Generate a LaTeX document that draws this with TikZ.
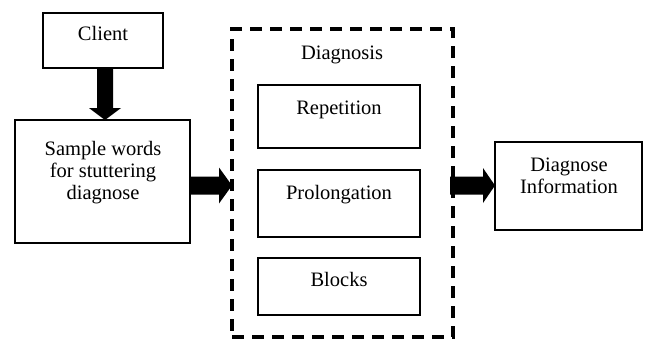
\documentclass[tikz,border=0pt]{standalone}
\usepackage{fontspec}
\setmainfont{Liberation Serif}
\usetikzlibrary{calc}
\begin{document}
\begin{tikzpicture}[x=1pt,y=-1pt,
  box/.style={draw, line width=1.5pt, inner sep=0pt, outer sep=0pt},
  txt/.style={font=\fontsize{20.5}{22}\selectfont, inner sep=0pt, align=center, anchor=base},
  dashbox/.style={draw, line width=3.5pt, dash pattern=on 12pt off 8pt, inner sep=0pt, outer sep=0pt}
]
\useasboundingbox (0,0) rectangle (646,340);
% boxes
\node[box, minimum width=120pt, minimum height=55pt] (client) at (103,40.5) {};
\node[box, minimum width=175pt, minimum height=123pt] (sample) at (102.5,181.5) {};
\node[dashbox, minimum width=221pt, minimum height=308pt] (diag) at (342.5,183) {};
\node[box, minimum width=162pt, minimum height=63pt] (rep) at (339,116.5) {};
\node[box, minimum width=162pt, minimum height=67pt] (prol) at (339,203.5) {};
\node[box, minimum width=162pt, minimum height=57pt] (blocks) at (339,286.5) {};
\node[box, minimum width=147pt, minimum height=88pt] (info) at (568.5,186) {};
% texts
\node[txt] (clientT) at (103,41) {Client};
\node[txt] (sampleT) at (103,199) {Sample words\\for stuttering\\diagnose};
\node[txt] (diagT) at (342,59) {Diagnosis};
\node[txt] (repT) at (339,114) {Repetition};
\node[txt] (prolT) at (339,199) {Prolongation};
\node[txt] (blocksT) at (339,286.5) {Blocks};
\node[txt] (infoT) at (569,193.5) {Diagnose\\Information};
% block arrows
\path (client.south) ++(2,0) coordinate (d1);
\coordinate (d2) at (d1 |- sample.north);
\fill ($(d1)+(-8,0)$) -- ($(d2)+(-8,-12)$) -- ($(d2)+(-16,-12)$) -- (d2)
  -- ($(d2)+(16,-12)$) -- ($(d2)+(8,-12)$) -- ($(d1)+(8,0)$) -- cycle;
\coordinate (ya) at (0,185.5);
\coordinate (h1) at (sample.east |- ya);
\coordinate (h2) at (diag.west |- ya);
\fill ($(h1)+(0,-9)$) -- ($(h2)+(-13,-9)$) -- ($(h2)+(-13,-18)$) -- (h2)
  -- ($(h2)+(-13,18)$) -- ($(h2)+(-13,9)$) -- ($(h1)+(0,9)$) -- cycle;
\coordinate (h3) at (diag.east |- ya);
\coordinate (h4) at (info.west |- ya);
\fill ($(h3)+(-3,-9)$) -- ($(h4)+(-12,-9)$) -- ($(h4)+(-12,-17.5)$) -- (h4)
  -- ($(h4)+(-12,17.5)$) -- ($(h4)+(-12,9)$) -- ($(h3)+(-3,9)$) -- cycle;
\end{tikzpicture}
\end{document}
